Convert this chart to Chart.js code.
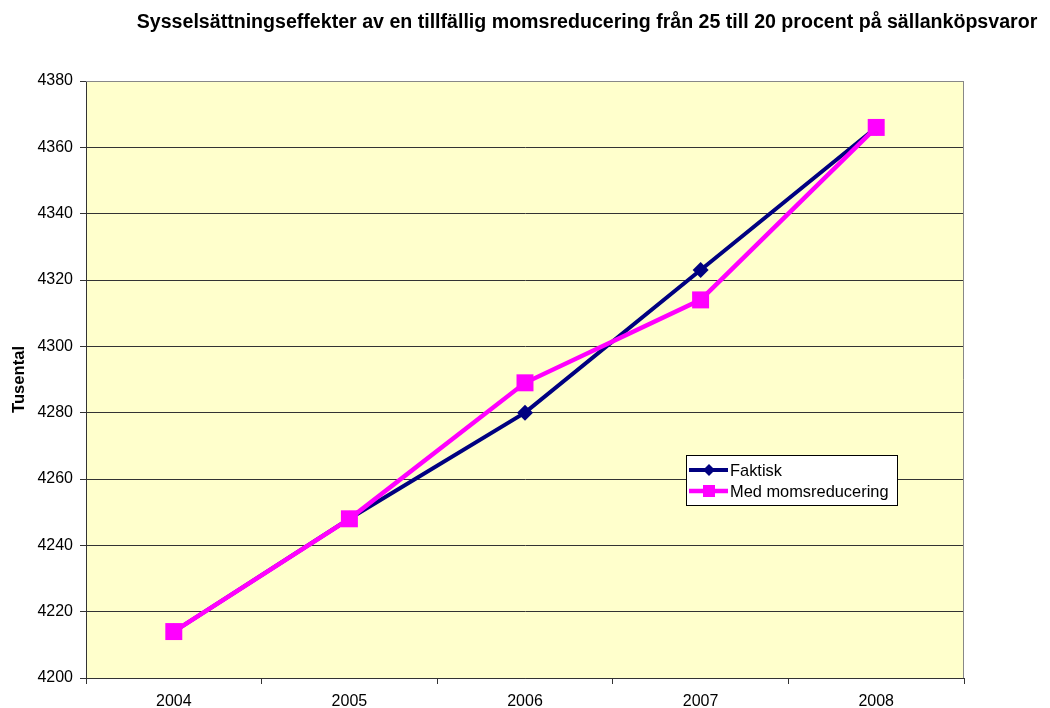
<!DOCTYPE html>
<html>
<head>
<meta charset="utf-8">
<script src="https://cdn.jsdelivr.net/npm/chart.js@4/dist/chart.umd.min.js"></script>
<style>
  html, body { margin: 0; padding: 0; background: #fff; }
  canvas { display: block; }
</style>
</head>
<body>
<canvas id="jobsChart" width="1050" height="708"></canvas>
<script>
// data
const years = ['2004', '2005', '2006', '2007', '2008'];
const faktisk = [4214, 4248, 4280, 4323, 4366];
const medMoms = [4214, 4248, 4289, 4314, 4366];
const yMin = 4200, yMax = 4380, yStep = 20;

const titleText = 'Sysselsättningseffekter av en tillfällig momsreducering från 25 till 20 procent på sällanköpsvaror';
const font = '"Liberation Sans", Arial, sans-serif';

// plot background, title, axis title, right border and legend box
const decor = {
  id: 'decor',
  beforeDraw(chart) {
    const { ctx, chartArea: a } = chart;
    ctx.save();
    ctx.fillStyle = '#FFFFCC';
    ctx.fillRect(a.left, a.top, a.right - a.left, a.bottom - a.top);
    ctx.restore();
  },
  afterDraw(chart) {
    const { ctx, chartArea: a } = chart;
    ctx.save();
    // grey top/right frame
    ctx.strokeStyle = '#888';
    ctx.lineWidth = 1;
    ctx.beginPath();
    ctx.moveTo(a.left, a.top + 0.5);
    ctx.lineTo(a.right - 0.5, a.top + 0.5);
    ctx.lineTo(a.right - 0.5, a.bottom);
    ctx.stroke();

    // title
    ctx.fillStyle = '#000';
    ctx.font = 'bold 19.6px ' + font;
    ctx.textAlign = 'center';
    ctx.textBaseline = 'alphabetic';
    ctx.fillText(titleText, 587, 28);

    // y axis title
    ctx.save();
    ctx.translate(19, (a.top + a.bottom) / 2);
    ctx.rotate(-Math.PI / 2);
    ctx.font = 'bold 16.6px ' + font;
    ctx.textBaseline = 'middle';
    ctx.fillText('Tusental', 0, 0);
    ctx.restore();

    // legend
    const lx = 686, ly = 455, lw = 211, lh = 50;
    ctx.fillStyle = '#fff';
    ctx.fillRect(lx, ly, lw, lh);
    ctx.strokeStyle = '#000';
    ctx.strokeRect(lx + 0.5, ly + 0.5, lw, lh);
    const items = [
      { label: 'Faktisk', color: '#000080', width: 4, marker: 'diamond', y: 470 },
      { label: 'Med momsreducering', color: '#FF00FF', width: 4.5, marker: 'square', y: 491 }
    ];
    items.forEach(it => {
      ctx.strokeStyle = it.color;
      ctx.lineWidth = it.width;
      ctx.beginPath();
      ctx.moveTo(689, it.y);
      ctx.lineTo(728, it.y);
      ctx.stroke();
      ctx.fillStyle = it.color;
      if (it.marker === 'diamond') {
        ctx.beginPath();
        ctx.moveTo(709, it.y - 6);
        ctx.lineTo(715, it.y);
        ctx.lineTo(709, it.y + 6);
        ctx.lineTo(703, it.y);
        ctx.closePath();
        ctx.fill();
      } else {
        ctx.fillRect(703, it.y - 6, 12, 12);
      }
      ctx.fillStyle = '#000';
      ctx.font = '16.4px ' + font;
      ctx.textAlign = 'left';
      ctx.textBaseline = 'middle';
      ctx.fillText(it.label, 730, it.y + 1);
    });
    ctx.restore();
  }
};

new Chart(document.getElementById('jobsChart'), {
  type: 'line',
  data: {
    labels: years,
    datasets: [
      {
        label: 'Faktisk',
        data: faktisk,
        borderColor: '#000080',
        backgroundColor: '#000080',
        borderWidth: 4,
        pointStyle: 'rectRot',
        pointRadius: 8,
        pointBorderWidth: 0,
        tension: 0,
        order: 1
      },
      {
        label: 'Med momsreducering',
        data: medMoms,
        borderColor: '#FF00FF',
        backgroundColor: '#FF00FF',
        borderWidth: 4.5,
        pointStyle: 'rect',
        pointRadius: 12,
        pointBorderWidth: 0,
        tension: 0,
        order: 0
      }
    ]
  },
  options: {
    responsive: false,
    animation: false,
    layout: { padding: { top: 81, right: 86, left: 0, bottom: 0 } },
    plugins: { legend: { display: false }, tooltip: { enabled: false } },
    scales: {
      x: {
        offset: true,
        grid: { offset: true, drawOnChartArea: false, tickLength: 6, color: '#333' },
        border: { color: '#333', width: 1 },
        ticks: { color: '#000', font: { family: font, size: 16 }, padding: 8, maxRotation: 0 },
        afterFit(s) { s.height = 30; }
      },
      y: {
        min: yMin,
        max: yMax,
        grid: {
          color: c => (c.tick && c.tick.value === yMax ? '#888' : '#333'),
          tickColor: '#333',
          tickLength: 6
        },
        border: { color: '#333', width: 1 },
        ticks: {
          stepSize: yStep,
          color: '#000',
          font: { family: font, size: 16 },
          padding: 7,
          callback: v => String(v)
        },
        afterFit(s) { s.width = 86; }
      }
    }
  },
  plugins: [decor]
});
</script>
</body>
</html>
